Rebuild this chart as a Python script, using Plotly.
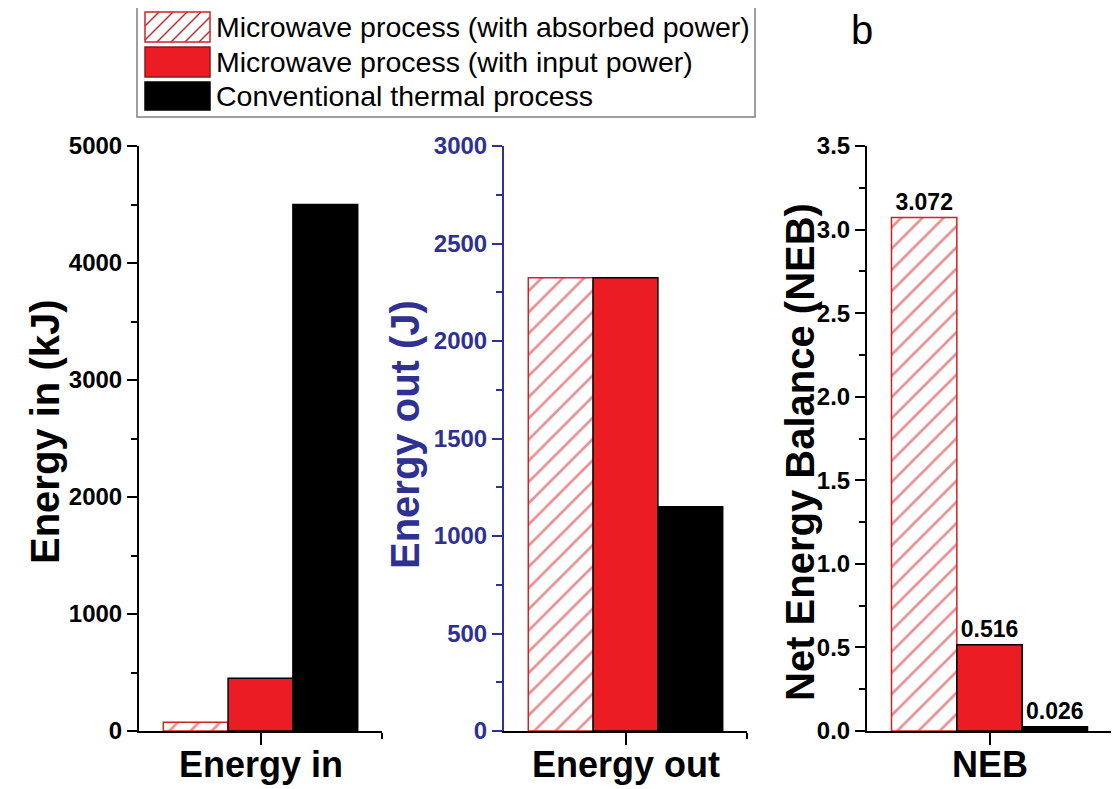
import plotly.graph_objects as go

W, H = 1119, 789
OFF = 8  # page body margin offset in the browser

# ---------------- data ----------------
categories = ["Energy in", "Energy out", "NEB"]
series_names = ["Microwave process (with absorbed power)",
                "Microwave process (with input power)",
                "Conventional thermal process"]
energy_in_kJ = [75, 450, 4500]
energy_out_J = [2325, 2325, 1150]
neb_values = [3.072, 0.516, 0.026]
y_titles = ["Energy in (kJ)", "Energy out (J)", "Net Energy Balance (NEB)"]

# ---------------- styles ----------------
RED = "#EC1C24"
HATCH = "#CF2228"
BLUE = "#2E3192"
FONT = "Liberation Sans, Arial, sans-serif"


def px_x(x):
    return (x - OFF) / W


def px_y(y):
    return 1 - (y - OFF) / H


panel_values = [energy_in_kJ, energy_out_J, neb_values]
x_domains = [[px_x(139), px_x(382)], [px_x(504), px_x(747)], [px_x(867), px_x(1112)]]
y_domain = [px_y(731), px_y(146)]
y_ranges = [[0, 5000], [0, 3000], [0, 3.5]]
y_dticks = [1000, 500, 0.5]
y_minor = [500, 250, 0.25]
y_formats = ["d", "d", ".1f"]
axis_colors = ["black", BLUE, "black"]
title_x = [45, 405, 800]
title_y = [432, 435, 452]

fig = go.Figure()

for p in range(3):
    xa = "x" if p == 0 else f"x{p+1}"
    ya = "y" if p == 0 else f"y{p+1}"
    vals = panel_values[p]
    for s in range(3):
        if s == 0:
            marker = dict(color="white",
                          pattern=dict(shape="/", fgcolor=HATCH, bgcolor="white",
                                       size=15, solidity=0.18),
                          line=dict(color=HATCH, width=1.5))
        elif s == 1:
            marker = dict(color=RED, line=dict(color="black", width=1.5))
        else:
            marker = dict(color="black", line=dict(color="black", width=1.5))
        kw = {}
        if p == 2:
            kw = dict(texttemplate="%{y:.3f}", textposition="outside",
                      textfont=dict(family=FONT, size=23, color="black", weight="bold"),
                      cliponaxis=False, constraintext="none")
        fig.add_trace(go.Bar(x=[0], y=[vals[s]], name=series_names[s],
                             offsetgroup=str(s), marker=marker, showlegend=False,
                             xaxis=xa, yaxis=ya, **kw))

layout = dict(width=W, height=H, margin=dict(l=0, r=0, t=0, b=0, autoexpand=False),
              paper_bgcolor="white", plot_bgcolor="white",
              barmode="group", bargap=0.2, bargroupgap=0,
              font=dict(family=FONT, color="black"))

annotations = []
for p in range(3):
    xk = "xaxis" if p == 0 else f"xaxis{p+1}"
    yk = "yaxis" if p == 0 else f"yaxis{p+1}"
    ya_anchor = "y" if p == 0 else f"y{p+1}"
    xa_anchor = "x" if p == 0 else f"x{p+1}"
    layout[xk] = dict(domain=x_domains[p], anchor=ya_anchor, range=[-0.5, 0.5],
                      automargin=False,
                      tickmode="array", tickvals=[0], showticklabels=False,
                      ticks="outside", ticklen=12, tickwidth=2, tickcolor="black",
                      showline=True, linewidth=2, linecolor="black",
                      showgrid=False, zeroline=False,
                      minor=dict(tickmode="array", tickvals=[0.5], ticks="outside",
                                 ticklen=6, tickwidth=2, tickcolor="black"),
                      fixedrange=True)
    # category label under the centre tick
    annotations.append(dict(x=0, xref=xa_anchor, y=px_y(764), yref="paper",
                            text=f"<b>{categories[p]}</b>", showarrow=False,
                            xanchor="center", yanchor="middle",
                            font=dict(family=FONT, size=36, color="black")))
    c = axis_colors[p]
    layout[yk] = dict(domain=y_domain, anchor=xa_anchor, range=y_ranges[p],
                      automargin=False,
                      dtick=y_dticks[p], tick0=0, tickformat=y_formats[p],
                      ticks="outside", ticklen=10, tickwidth=2, tickcolor=c,
                      showline=True, linewidth=2, linecolor=c,
                      showgrid=False, zeroline=False,
                      tickfont=dict(family=FONT, size=24, color=c, weight="bold"),
                      minor=dict(dtick=y_minor[p], tick0=0, ticks="outside",
                                 ticklen=6, tickwidth=2, tickcolor=c),
                      fixedrange=True)

fig.update_layout(**layout)

for p in range(3):
    annotations.append(dict(x=px_x(title_x[p]), y=px_y(title_y[p]), xref="paper", yref="paper",
                            text=f"<b>{y_titles[p]}</b>", textangle=-90, showarrow=False,
                            xanchor="center", yanchor="middle",
                            font=dict(family=FONT, size=40, color=axis_colors[p])))
annotations.append(dict(x=px_x(862), y=px_y(30), xref="paper", yref="paper", text="b",
                        showarrow=False, xanchor="center", yanchor="middle",
                        font=dict(family=FONT, size=40, color="black")))

# ---------------- custom legend ----------------
shapes = []
shapes.append(dict(type="rect", xref="paper", yref="paper",
                   x0=px_x(137), x1=px_x(755), y0=px_y(117), y1=px_y(3),
                   line=dict(color="#7f7f7f", width=1.5), fillcolor="white", layer="below"))
rows = [(12, 42), (47, 77), (82, 110)]
sx0, sx1 = 145, 210
fills = ["white", RED, "black"]
edges = [HATCH, "#8b1a1a", "black"]
for i, (t, b) in enumerate(rows):
    shapes.append(dict(type="rect", xref="paper", yref="paper",
                       x0=px_x(sx0), x1=px_x(sx1), y0=px_y(b), y1=px_y(t),
                       line=dict(color=edges[i], width=1.5), fillcolor=fills[i]))
    annotations.append(dict(x=px_x(214), y=px_y((t + b) / 2), xref="paper", yref="paper",
                            text=series_names[i], showarrow=False, xanchor="left",
                            yanchor="middle",
                            font=dict(family=FONT, size=28.5, color="black")))
# hatch lines for first swatch
t, b = rows[0]
h = b - t
step = 14
c = sx0 - h
while c < sx1:
    t0 = max(0.0, (sx0 - c) / h)
    t1 = min(1.0, (sx1 - c) / h)
    if t1 > t0:
        xa_, ya_ = c + t0 * h, b - t0 * h
        xb_, yb_ = c + t1 * h, b - t1 * h
        shapes.append(dict(type="line", xref="paper", yref="paper",
                           x0=px_x(xa_), y0=px_y(ya_), x1=px_x(xb_), y1=px_y(yb_),
                           line=dict(color=HATCH, width=1.5)))
    c += step

fig.update_layout(annotations=annotations, shapes=shapes)
fig.write_html("out.html")
